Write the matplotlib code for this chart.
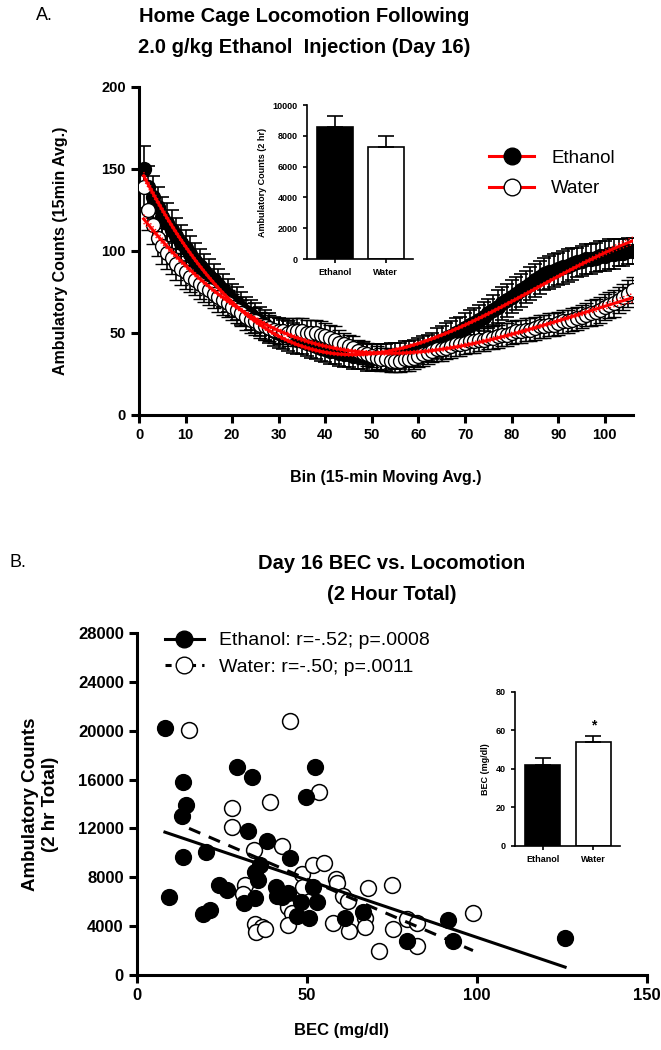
import numpy as np
import matplotlib
matplotlib.use("Agg")
import matplotlib.pyplot as plt
from matplotlib.lines import Line2D

plt.rcParams['font.family'] = ['Liberation Sans', 'DejaVu Sans']

# ---------------- Panel A data (15-min moving average per bin) ----------------
bins = np.arange(1, 107)
eth_mean = [150, 139, 133, 127, 121, 117, 113, 109, 105, 102,
            98, 94, 91, 88, 85, 82, 79, 76, 73, 70,
            68, 65, 63, 61, 59, 57, 55, 53, 51, 50,
            49, 48, 47, 46, 45, 44, 43, 42, 41, 40,
            39, 39, 38, 37, 37, 36, 36, 36, 35, 35,
            35, 35, 35, 36, 36, 36, 37, 37, 38, 39,
            40, 41, 42, 44, 45, 47, 48, 50, 51, 53,
            55, 56, 58, 60, 62, 64, 66, 68, 70, 72,
            74, 76, 78, 80, 82, 84, 86, 87, 88, 89,
            90, 91, 92, 93, 94, 95, 95, 96, 97, 97,
            98, 98, 99, 99, 100, 100]
eth_sem = [14, 13, 13, 12, 12, 12, 12, 11, 11, 11,
           11, 11, 10, 10, 10, 10, 10, 10, 10, 10,
           10, 10, 9, 9, 9, 9, 9, 9, 9, 9,
           9, 9, 9, 9, 8, 8, 8, 8, 8, 8,
           8, 8, 8, 8, 8, 8, 8, 8, 8, 8,
           8, 8, 8, 8, 8, 8, 8, 8, 8, 8,
           8, 8, 8, 9, 9, 9, 9, 9, 9, 9,
           9, 9, 9, 9, 9, 9, 10, 10, 10, 10,
           10, 10, 10, 10, 10, 10, 10, 10, 10, 10,
           10, 10, 10, 9, 9, 9, 9, 9, 9, 9,
           9, 9, 8, 8, 8, 8]
wat_mean = [139, 125, 116, 108, 103, 99, 96, 92, 89, 87,
            84, 82, 80, 78, 76, 74, 72, 70, 68, 66,
            64, 62, 60, 58, 57, 55, 54, 53, 52, 51,
            51, 50, 51, 51, 51, 50, 50, 50, 49, 48,
            47, 46, 44, 43, 42, 41, 39, 38, 37, 36,
            35, 34, 34, 33, 33, 33, 34, 34, 35, 36,
            37, 38, 39, 40, 40, 41, 42, 43, 43, 44,
            45, 45, 46, 46, 47, 47, 48, 49, 49, 50,
            51, 51, 52, 52, 53, 54, 54, 55, 55, 56,
            57, 57, 58, 59, 60, 61, 62, 63, 64, 66,
            67, 68, 70, 72, 74, 76]
wat_sem = [13, 12, 12, 11, 11, 10, 10, 10, 10, 10,
           9, 9, 9, 9, 9, 9, 9, 9, 8, 8,
           8, 8, 8, 8, 8, 8, 8, 8, 8, 8,
           8, 8, 8, 8, 8, 8, 8, 8, 8, 8,
           8, 8, 8, 7, 7, 7, 7, 7, 7, 7,
           7, 7, 7, 7, 7, 7, 7, 7, 7, 7,
           7, 7, 7, 7, 7, 7, 7, 7, 7, 7,
           7, 7, 7, 7, 7, 7, 7, 7, 7, 7,
           7, 7, 7, 7, 7, 7, 7, 7, 7, 7,
           7, 7, 7, 7, 7, 7, 8, 8, 8, 8,
           8, 8, 8, 8, 8, 8]

# inset A: 2 hr total
groups = ["Ethanol", "Water"]
total_mean = [8600, 7300]
total_sem = [700, 700]

# ---------------- Panel B data ----------------
eth_bec = [8.2, 29.4, 33.8, 52.4, 13.5, 49.7, 14.4, 13.3, 32.6, 38.2,
           20.3, 13.5, 45.0, 36.2, 34.7, 35.6, 24.1, 26.5, 34.7, 31.5,
           40.9, 41.2, 44.4, 51.8, 52.9, 48.2, 42.6, 47.0, 50.6, 9.4,
           19.4, 21.5, 66.5, 61.2, 79.4, 91.5, 92.9, 125.9]
eth_counts = [20200, 17000, 16200, 17000, 15800, 14600, 13900, 13000, 11800, 11000,
              10100, 9700, 9600, 9000, 8400, 7800, 7400, 7000, 6300, 5900,
              7200, 6500, 6700, 7200, 6000, 6000, 6400, 4800, 4700, 6400,
              5000, 5300, 5200, 4700, 2800, 4500, 2800, 3000]
wat_bec = [15.3, 45.0, 53.5, 39.0, 28.0, 28.0, 42.6, 34.4, 48.5, 51.8,
           55.0, 31.8, 31.2, 48.8, 44.4, 45.6, 44.4, 34.7, 36.8, 35.0,
           37.6, 58.5, 58.8, 60.6, 62.0, 68.0, 75.0, 67.0, 57.6, 62.4,
           67.0, 75.3, 79.4, 82.4, 82.4, 71.2, 98.8]
wat_counts = [20100, 20800, 15000, 14200, 13700, 12100, 10600, 10200, 8300, 9000,
              9200, 7400, 6600, 7200, 5600, 5100, 4100, 4200, 3900, 3500,
              3800, 7900, 7500, 6500, 6100, 7100, 7400, 4700, 4300, 3600,
              3900, 3800, 4600, 4300, 2400, 2000, 5100]
# regression lines (slope, intercept)
eth_line = (-93.9, 12470)
wat_line = (-119.8, 13840)

bec_mean = [42, 54]
bec_sem = [3.5, 3]


def style_axes(ax, lw=2.0, labelsize=10):
    for s in ['top', 'right']:
        ax.spines[s].set_visible(False)
    for s in ['left', 'bottom']:
        ax.spines[s].set_linewidth(lw)
    ax.tick_params(width=lw, length=6, labelsize=labelsize, direction='out')
    for lab in ax.get_xticklabels() + ax.get_yticklabels():
        lab.set_fontweight('bold')


def cubic_fit(x, y):
    x = np.asarray(x, float)
    y = np.asarray(y, float)
    X = np.vander(x, 4)
    beta, *_ = np.linalg.lstsq(X, y, rcond=None)
    fit = X @ beta
    s2 = np.sum((y - fit) ** 2) / (len(x) - 4)
    cov = np.linalg.inv(X.T @ X)
    se = np.sqrt(s2 * np.sum((X @ cov) * X, axis=1))
    return fit, 1.98 * se


fig = plt.figure(figsize=(6.61, 10.5), dpi=100)

# ---------------- Panel A ----------------
axA = fig.add_axes([0.2103, 0.6048, 0.747, 0.3124])
axA.errorbar(bins, eth_mean, yerr=eth_sem, fmt='o', color='black', mfc='black',
             mec='black', ms=10, elinewidth=1.2, capsize=5, capthick=1.2, zorder=2)
axA.errorbar(bins, wat_mean, yerr=wat_sem, fmt='o', color='black', mfc='white',
             mec='black', ms=10, mew=1.0, elinewidth=1.2, capsize=5, capthick=1.2, zorder=3)
for m in (eth_mean, wat_mean):
    fit, ci = cubic_fit(bins, m)
    axA.plot(bins, fit, color='red', lw=2.2, zorder=5)
    axA.plot(bins, fit + ci, color='red', lw=1.0, ls=':', zorder=5)
    axA.plot(bins, fit - ci, color='red', lw=1.0, ls=':', zorder=5)
axA.set_xlim(0, 106)
axA.set_ylim(0, 200)
axA.set_xticks(np.arange(0, 101, 10))
axA.set_yticks(np.arange(0, 201, 50))
axA.spines['bottom'].set_bounds(0, 106)
style_axes(axA, lw=2.2, labelsize=10.5)
axA.set_ylabel("Ambulatory Counts (15min Avg.)", fontsize=11.5, fontweight='bold', labelpad=24)
axA.set_xlabel("Bin (15-min Moving Avg.)", fontsize=11.5, fontweight='bold', labelpad=20)
handles = [Line2D([], [], color='red', lw=2.2, marker='o', mfc='black', mec='black', ms=12),
           Line2D([], [], color='red', lw=2.2, marker='o', mfc='white', mec='black', ms=12)]
axA.legend(handles, groups, loc='upper left', bbox_to_anchor=(0.675, 0.86), frameon=False,
           fontsize=13.5, handlelength=2.4, labelspacing=0.7, handletextpad=0.9)

insA = fig.add_axes([0.4644, 0.7533, 0.160, 0.1467])
insA.bar([0, 1], total_mean, width=0.7, color=['black', 'white'], edgecolor='black', lw=1.2)
insA.errorbar([0, 1], total_mean, yerr=[[0, 0], total_sem], fmt='none', ecolor='black',
              elinewidth=1.2, capsize=6, capthick=1.2)
insA.set_xlim(-0.55, 1.53)
insA.set_ylim(0, 10000)
insA.set_yticks(np.arange(0, 10001, 2000))
insA.set_xticks([0, 1])
insA.set_xticklabels(groups)
style_axes(insA, lw=1.2, labelsize=6.5)
insA.tick_params(length=3)
insA.set_ylabel("Ambulatory Counts (2 hr)", fontsize=6.5, fontweight='bold')

fig.text(0.055, 0.993, "A.", fontsize=13, va='top', ha='left')
fig.text(0.46, 0.993, "Home Cage Locomotion Following\n2.0 g/kg Ethanol  Injection (Day 16)",
         fontsize=14.5, fontweight='bold', ha='center', va='top', linespacing=1.75)

# ---------------- Panel B ----------------
axB = fig.add_axes([0.2073, 0.0714, 0.7716, 0.3257])
axB.scatter(eth_bec, eth_counts, s=130, c='black', edgecolors='black', zorder=3)
axB.scatter(wat_bec, wat_counts, s=130, c='white', edgecolors='black', linewidths=1.1, zorder=2)
xe = np.array([min(eth_bec), max(eth_bec)])
xw = np.array([min(wat_bec), max(wat_bec)])
axB.plot(xe, eth_line[0] * xe + eth_line[1], color='black', lw=2.2, zorder=4)
axB.plot(xw, wat_line[0] * xw + wat_line[1], color='black', lw=2.2, ls=(0, (4, 3)), zorder=4)
axB.set_xlim(0, 150)
axB.set_ylim(0, 28000)
axB.set_xticks([0, 50, 100, 150])
axB.set_yticks(np.arange(0, 28001, 4000))
style_axes(axB, lw=2.2, labelsize=12)
axB.set_ylabel("Ambulatory Counts\n(2 hr Total)", fontsize=13.5, fontweight='bold', labelpad=14)
axB.set_xlabel("BEC (mg/dl)", fontsize=12, fontweight='bold')
axB.xaxis.set_label_coords(0.4, -0.14)
handlesB = [Line2D([], [], color='black', lw=2.2, marker='o', mfc='black', mec='black', ms=12),
            Line2D([], [], color='black', lw=2.2, ls=(0, (2, 2)), marker='o', mfc='white', mec='black', ms=12)]
axB.legend(handlesB, ["Ethanol: r=-.52; p=.0008", "Water: r=-.50; p=.0011"], loc='upper left',
           bbox_to_anchor=(0.02, 1.055), frameon=False, fontsize=14, handlelength=2.0,
           labelspacing=0.45, handletextpad=0.8)

insB = fig.add_axes([0.779, 0.1943, 0.159, 0.1467])
insB.bar([0, 1], bec_mean, width=0.7, color=['black', 'white'], edgecolor='black', lw=1.2)
insB.errorbar([0, 1], bec_mean, yerr=[[0, 0], bec_sem], fmt='none', ecolor='black',
              elinewidth=1.2, capsize=6, capthick=1.2)
insB.text(1, bec_mean[1] + bec_sem[1] + 2, "*", ha='center', va='bottom', fontsize=10, fontweight='bold')
insB.set_xlim(-0.55, 1.53)
insB.set_ylim(0, 80)
insB.set_yticks(np.arange(0, 81, 20))
insB.set_xticks([0, 1])
insB.set_xticklabels(groups)
style_axes(insB, lw=1.2, labelsize=6.5)
insB.tick_params(length=3)
insB.set_ylabel("BEC (mg/dl)", fontsize=6.5, fontweight='bold')

fig.text(0.015, 0.472, "B.", fontsize=13, va='top', ha='left')
fig.text(0.593, 0.472, "Day 16 BEC vs. Locomotion\n(2 Hour Total)",
         fontsize=14.5, fontweight='bold', ha='center', va='top', linespacing=1.8)

fig.savefig("out.png", dpi=100)
